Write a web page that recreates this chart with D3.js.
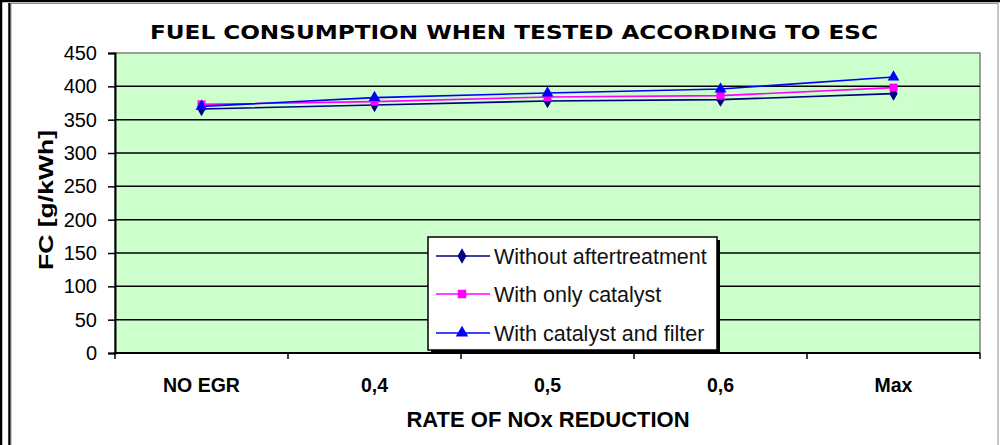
<!DOCTYPE html>
<html>
<head>
<meta charset="utf-8">
<script src="https://cdn.jsdelivr.net/npm/d3@7"></script>
<style>
  body { margin: 0; background: #fff; }
  svg { display: block; }
</style>
</head>
<body>
<div id="chart"></div>
<script>
// chart data
const categories = ["NO EGR", "0,4", "0,5", "0,6", "Max"];
const withoutAftertreatment = [366, 372, 378, 380, 389];
const withOnlyCatalyst = [373, 377, 384, 386, 398];
const withCatalystAndFilter = [370, 383, 390, 396, 414];
const yTicks = [0, 50, 100, 150, 200, 250, 300, 350, 400, 450];

const seriesNames = ["Without aftertreatment", "With only catalyst", "With catalyst and filter"];
const seriesValues = [withoutAftertreatment, withOnlyCatalyst, withCatalystAndFilter];
const seriesColors = ["#000080", "#ff00ff", "#0000ff"];
const seriesShapes = [d3.symbolDiamond, d3.symbolSquare, d3.symbolTriangle];
const shapeSizes = [60, 64, 60];

const W = 1000, H = 445;
const plot = { left: 115, right: 980, top: 53, bottom: 353 };
const ARIAL = "'Liberation Sans', Arial, sans-serif";

const svg = d3.select("#chart").append("svg")
  .attr("width", W)
  .attr("height", H);

// outer frame (double line on the left)
svg.append("line").attr("x1", 1).attr("x2", 1).attr("y1", 0).attr("y2", H)
  .attr("stroke", "#000").attr("stroke-width", 2.5);
svg.append("line").attr("x1", 0).attr("x2", W).attr("y1", 1).attr("y2", 1)
  .attr("stroke", "#000").attr("stroke-width", 2.5);
svg.append("line").attr("x1", 9.5).attr("x2", 9.5).attr("y1", 3).attr("y2", H)
  .attr("stroke", "#000").attr("stroke-width", 2.5);
svg.append("rect").attr("x", 11).attr("y", 3.5).attr("width", 987).attr("height", H)
  .attr("fill", "#fff").attr("stroke", "#909090").attr("stroke-width", 1);

// scales
const x = d3.scaleBand().domain(categories).range([plot.left, plot.right]).padding(0);
const y = d3.scaleLinear().domain([0, 450]).range([plot.bottom, plot.top]);

// plot area
svg.append("rect")
  .attr("x", plot.left).attr("y", plot.top)
  .attr("width", plot.right - plot.left).attr("height", plot.bottom - plot.top)
  .attr("fill", "#ccffcc")
  .attr("stroke", "#808080").attr("stroke-width", 1.5);

// gridlines
svg.append("g").selectAll("line")
  .data(yTicks.filter((t) => t > 0 && t < 450))
  .join("line")
  .attr("x1", plot.left).attr("x2", plot.right)
  .attr("y1", (d) => y(d)).attr("y2", (d) => y(d))
  .attr("stroke", "#000").attr("stroke-width", 1.5);

// y axis
const yAxis = svg.append("g")
  .attr("transform", `translate(${plot.left},0)`)
  .call(d3.axisLeft(y).tickValues(yTicks).tickSize(7).tickPadding(11));
yAxis.select(".domain").attr("stroke", "#000").attr("stroke-width", 2);
yAxis.selectAll(".tick line").attr("stroke", "#000").attr("stroke-width", 1.5);
yAxis.selectAll(".tick text")
  .attr("font-family", ARIAL).attr("font-size", 20).attr("fill", "#000");

// x axis (labels centred, ticks at the band edges)
const xAxis = svg.append("g")
  .attr("transform", `translate(0,${plot.bottom})`)
  .call(d3.axisBottom(x).tickSize(0).tickPadding(25));
xAxis.select(".domain").remove();
xAxis.selectAll(".tick text")
  .attr("font-family", ARIAL).attr("font-size", 19.5).attr("font-weight", "bold").attr("fill", "#000");

svg.append("line")
  .attr("x1", plot.left - 1).attr("x2", plot.right)
  .attr("y1", plot.bottom).attr("y2", plot.bottom)
  .attr("stroke", "#000").attr("stroke-width", 2);
svg.append("g").selectAll("line")
  .data(categories.map((c) => x(c)).concat([plot.right]))
  .join("line")
  .attr("x1", (d) => d).attr("x2", (d) => d)
  .attr("y1", plot.bottom).attr("y2", plot.bottom + 6)
  .attr("stroke", "#000").attr("stroke-width", 1.5);

// series lines and markers
const line = d3.line()
  .x((d, i) => x(categories[i]) + x.bandwidth() / 2)
  .y((d) => y(d));

seriesValues.forEach((vals, s) => {
  svg.append("path")
    .datum(vals)
    .attr("d", line)
    .attr("fill", "none")
    .attr("stroke", seriesColors[s])
    .attr("stroke-width", 1.6);
});
seriesValues.forEach((vals, s) => {
  svg.append("g").selectAll("path")
    .data(vals)
    .join("path")
    .attr("transform", (d, i) =>
      `translate(${x(categories[i]) + x.bandwidth() / 2},${y(d)})`)
    .attr("d", d3.symbol().type(seriesShapes[s]).size(shapeSizes[s]))
    .attr("fill", seriesColors[s]);
});

// legend
const legend = { x: 428, y: 237, w: 289, h: 113 };
svg.append("rect")
  .attr("x", legend.x + 3).attr("y", legend.y + 3)
  .attr("width", legend.w).attr("height", legend.h)
  .attr("fill", "#000");
svg.append("rect")
  .attr("x", legend.x).attr("y", legend.y)
  .attr("width", legend.w).attr("height", legend.h)
  .attr("fill", "#fff").attr("stroke", "#000").attr("stroke-width", 1.5);

const rowY = [256, 294, 333];
seriesNames.forEach((name, s) => {
  const g = svg.append("g").attr("transform", `translate(${legend.x},${rowY[s]})`);
  g.append("line")
    .attr("x1", 8).attr("x2", 62)
    .attr("stroke", seriesColors[s]).attr("stroke-width", 1.6);
  g.append("path")
    .attr("transform", "translate(34,0)")
    .attr("d", d3.symbol().type(seriesShapes[s]).size(shapeSizes[s] + 8))
    .attr("fill", seriesColors[s]);
  g.append("text")
    .attr("x", 66).attr("dy", "0.36em")
    .attr("font-family", ARIAL).attr("font-size", 21.5)
    .attr("fill", "#111")
    .text(name);
});

// titles
svg.append("text")
  .attr("x", 514).attr("y", 39)
  .attr("text-anchor", "middle")
  .attr("font-family", "'DejaVu Sans', Verdana, sans-serif")
  .attr("font-size", 19).attr("font-weight", "bold")
  .attr("textLength", 728).attr("lengthAdjust", "spacingAndGlyphs")
  .text("FUEL CONSUMPTION WHEN TESTED ACCORDING TO ESC");

svg.append("text")
  .attr("x", 548).attr("y", 427)
  .attr("text-anchor", "middle")
  .attr("font-family", ARIAL)
  .attr("font-size", 22).attr("font-weight", "bold")
  .text("RATE OF NOx REDUCTION");

svg.append("text")
  .attr("transform", "translate(53,200) rotate(-90)")
  .attr("text-anchor", "middle")
  .attr("font-family", ARIAL)
  .attr("font-size", 20).attr("font-weight", "bold")
  .attr("textLength", 140).attr("lengthAdjust", "spacingAndGlyphs")
  .text("FC [g/kWh]");
</script>
</body>
</html>
